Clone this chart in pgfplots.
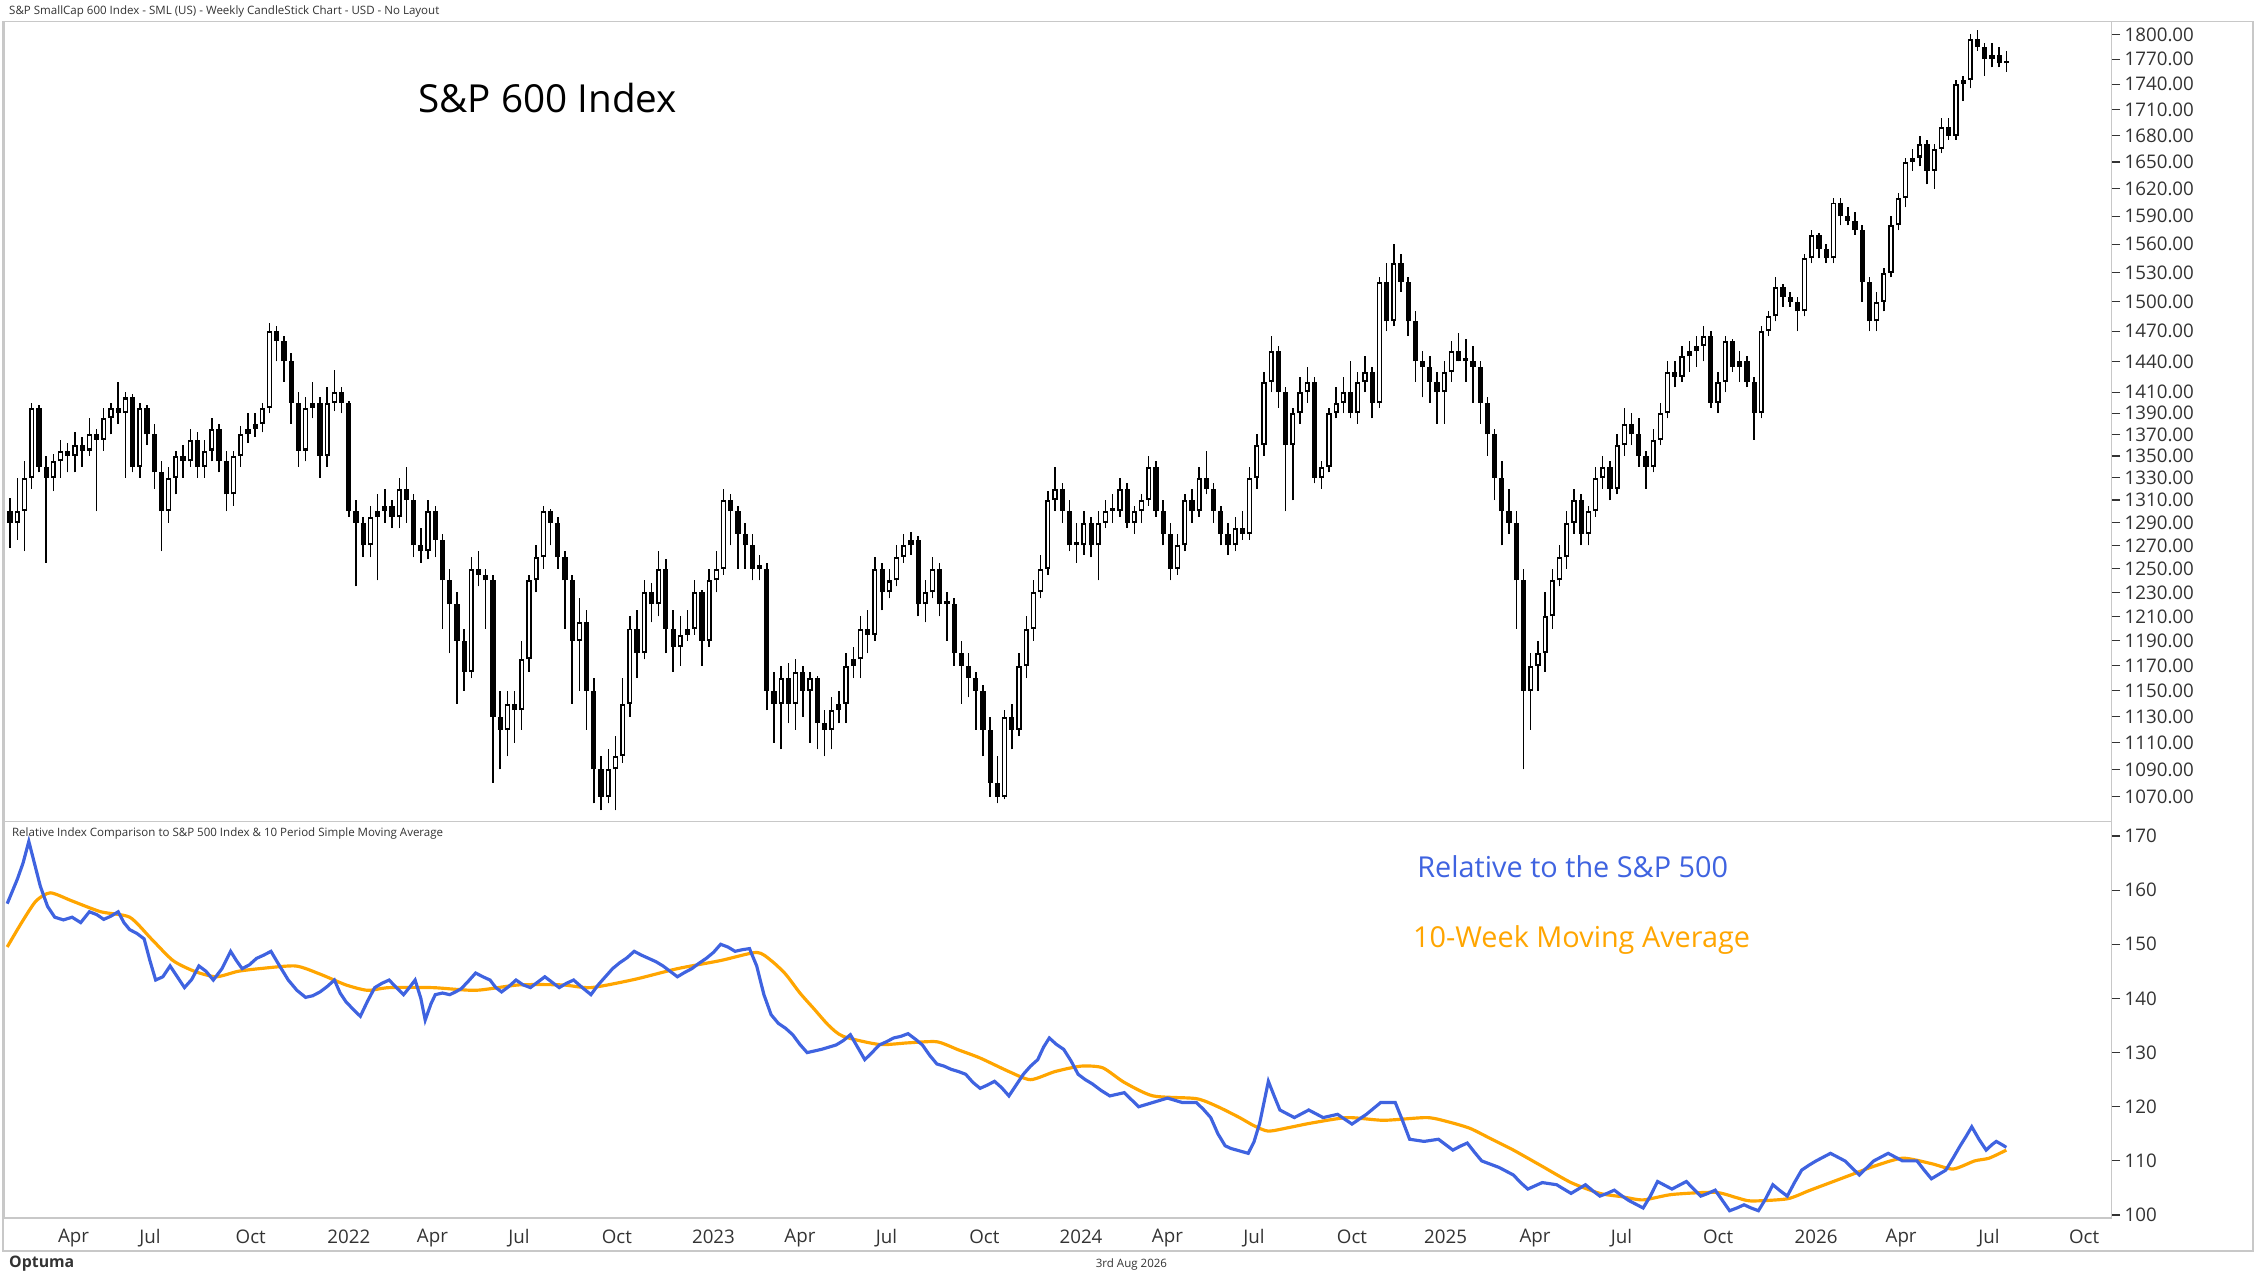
\documentclass[border=0pt]{standalone}
\usepackage{pgfplots}
\pgfplotsset{compat=1.18}
\usepackage{pgfplotstable}
\usepackage{fontspec}
\setmainfont{Open Sans}
\definecolor{relblue}{HTML}{3F63E0}
\definecolor{maorange}{HTML}{FFA500}
\definecolor{framegray}{HTML}{C8C8C8}
\definecolor{txtgray}{HTML}{333333}
\pgfplotstableread{
x o h l c
7 1300 1312 1268 1290
12 1290 1330 1275 1300
17 1300 1345 1265 1330
22 1330 1400 1320 1395
27 1395 1398 1335 1340
32 1340 1350 1255 1330
37 1330 1352 1318 1345
42 1345 1365 1330 1355
47 1355 1362 1335 1350
52 1350 1372 1335 1360
57 1360 1368 1340 1355
62 1355 1385 1350 1370
67 1370 1375 1300 1365
72 1365 1395 1355 1385
77 1385 1400 1370 1395
82 1395 1420 1380 1390
87 1390 1410 1330 1405
92 1405 1408 1335 1340
97 1340 1400 1330 1395
102 1395 1398 1360 1370
107 1370 1380 1320 1335
112 1335 1345 1265 1300
117 1300 1340 1290 1330
122 1330 1355 1315 1350
127 1350 1360 1330 1345
132 1345 1375 1340 1365
137 1365 1372 1330 1340
142 1340 1365 1330 1355
147 1355 1385 1345 1375
152 1375 1380 1335 1345
157 1345 1355 1300 1315
162 1315 1355 1305 1350
167 1350 1378 1340 1370
172 1370 1390 1362 1375
177 1375 1390 1368 1380
182 1380 1400 1372 1395
187 1395 1478 1390 1470
192 1470 1475 1440 1460
197 1460 1465 1420 1440
202 1440 1448 1380 1400
207 1400 1410 1340 1355
212 1355 1405 1345 1395
217 1395 1420 1385 1400
222 1400 1405 1330 1350
227 1350 1415 1340 1400
232 1400 1432 1392 1410
237 1410 1415 1390 1400
242 1400 1402 1295 1300
247 1300 1310 1235 1290
252 1290 1295 1260 1270
257 1270 1305 1260 1295
262 1295 1315 1240 1300
267 1300 1320 1290 1305
272 1305 1310 1285 1295
277 1295 1330 1285 1320
282 1320 1340 1290 1310
287 1310 1315 1260 1270
292 1270 1285 1255 1265
297 1265 1310 1258 1300
302 1300 1305 1260 1275
307 1275 1280 1200 1240
312 1240 1250 1180 1220
317 1220 1230 1140 1190
322 1190 1200 1150 1165
327 1165 1260 1160 1250
332 1250 1265 1235 1245
337 1245 1250 1200 1240
342 1240 1245 1080 1130
347 1130 1150 1090 1120
352 1120 1150 1100 1140
357 1140 1150 1110 1135
362 1135 1190 1120 1175
367 1175 1245 1165 1240
372 1240 1270 1230 1260
377 1260 1305 1250 1300
382 1300 1302 1270 1290
387 1290 1295 1250 1260
392 1260 1265 1200 1240
397 1240 1245 1140 1190
402 1190 1225 1150 1205
407 1205 1215 1120 1150
412 1150 1160 1065 1090
417 1090 1100 1060 1070
422 1070 1105 1065 1090
427 1090 1115 1060 1100
432 1100 1160 1095 1140
437 1140 1210 1130 1200
442 1200 1215 1160 1180
447 1180 1240 1175 1230
452 1230 1238 1205 1220
457 1220 1265 1210 1250
462 1250 1258 1180 1200
467 1200 1215 1165 1185
472 1185 1210 1170 1195
477 1195 1215 1190 1200
482 1200 1240 1195 1230
487 1230 1232 1170 1190
492 1190 1250 1185 1240
497 1240 1265 1230 1250
502 1250 1320 1245 1310
507 1310 1315 1270 1300
512 1300 1305 1250 1280
517 1280 1290 1250 1270
522 1270 1280 1240 1250
527 1250 1262 1240 1250
532 1250 1255 1135 1150
537 1150 1165 1110 1140
542 1140 1170 1105 1160
547 1160 1172 1125 1140
552 1140 1175 1120 1165
557 1165 1170 1130 1150
562 1150 1165 1110 1160
567 1160 1162 1105 1125
572 1125 1135 1100 1120
577 1120 1145 1105 1135
582 1135 1150 1125 1140
587 1140 1180 1125 1170
592 1170 1185 1160 1175
597 1175 1210 1160 1200
602 1200 1215 1180 1195
607 1195 1260 1190 1250
612 1250 1255 1215 1230
617 1230 1250 1225 1240
622 1240 1270 1235 1260
627 1260 1280 1255 1270
632 1270 1282 1262 1275
637 1275 1278 1210 1220
642 1220 1240 1205 1230
647 1230 1260 1225 1250
652 1250 1255 1210 1220
657 1220 1230 1190 1220
662 1220 1225 1170 1180
667 1180 1190 1140 1170
672 1170 1180 1145 1160
677 1160 1165 1120 1150
682 1150 1155 1100 1120
687 1120 1130 1070 1080
692 1080 1100 1065 1070
697 1070 1135 1068 1130
702 1130 1140 1105 1120
707 1120 1180 1115 1170
712 1170 1210 1160 1200
717 1200 1240 1190 1230
722 1230 1262 1225 1250
727 1250 1318 1245 1310
732 1310 1340 1300 1320
737 1320 1325 1290 1300
742 1300 1310 1265 1270
747 1270 1290 1255 1270
752 1270 1300 1262 1290
757 1290 1295 1260 1270
762 1270 1300 1240 1290
767 1290 1310 1285 1300
772 1300 1315 1290 1300
777 1300 1330 1295 1320
782 1320 1325 1285 1290
787 1290 1305 1280 1300
792 1300 1315 1290 1310
797 1310 1350 1305 1340
802 1340 1345 1295 1300
807 1300 1310 1270 1280
812 1280 1290 1240 1250
817 1250 1280 1245 1270
822 1270 1315 1265 1310
827 1310 1320 1290 1300
832 1300 1340 1295 1330
837 1330 1355 1315 1320
842 1320 1325 1290 1300
847 1300 1305 1270 1280
852 1280 1290 1262 1270
857 1270 1295 1265 1285
862 1285 1300 1275 1280
867 1280 1340 1275 1330
872 1330 1370 1320 1360
877 1360 1430 1350 1420
882 1420 1465 1410 1450
887 1450 1455 1395 1410
892 1410 1415 1300 1360
897 1360 1395 1310 1390
902 1390 1425 1380 1410
907 1410 1435 1400 1420
912 1420 1425 1325 1330
917 1330 1345 1320 1340
922 1340 1395 1335 1390
927 1390 1415 1385 1400
932 1400 1425 1390 1410
937 1410 1440 1385 1390
942 1390 1430 1380 1420
947 1420 1445 1410 1430
952 1430 1435 1385 1400
957 1400 1525 1395 1520
962 1520 1540 1470 1480
967 1480 1560 1475 1540
972 1540 1550 1510 1520
977 1520 1525 1465 1480
982 1480 1490 1420 1440
987 1440 1450 1405 1435
992 1435 1445 1400 1420
997 1420 1430 1380 1410
1002 1410 1440 1380 1430
1007 1430 1460 1420 1450
1012 1450 1468 1440 1440
1017 1440 1462 1420 1440
1022 1440 1455 1400 1435
1027 1435 1440 1380 1400
1032 1400 1405 1350 1370
1037 1370 1375 1310 1330
1042 1330 1345 1270 1300
1047 1300 1320 1280 1290
1052 1290 1300 1200 1240
1057 1240 1250 1090 1150
1062 1150 1180 1120 1170
1067 1170 1190 1150 1180
1072 1180 1230 1165 1210
1077 1210 1250 1200 1240
1082 1240 1270 1235 1260
1087 1260 1300 1250 1290
1092 1290 1320 1280 1310
1097 1310 1315 1270 1280
1102 1280 1305 1270 1300
1107 1300 1340 1295 1330
1112 1330 1350 1320 1340
1117 1340 1345 1310 1320
1122 1320 1370 1315 1360
1127 1360 1395 1350 1380
1132 1380 1390 1360 1370
1137 1370 1385 1340 1350
1142 1350 1355 1320 1340
1147 1340 1375 1335 1365
1152 1365 1400 1360 1390
1157 1390 1440 1385 1430
1162 1430 1440 1415 1425
1167 1425 1455 1420 1445
1172 1445 1460 1430 1450
1177 1450 1465 1435 1455
1182 1455 1475 1440 1465
1187 1465 1470 1395 1400
1192 1400 1430 1390 1420
1197 1420 1465 1410 1460
1202 1460 1462 1430 1435
1207 1435 1450 1420 1440
1212 1440 1445 1415 1420
1217 1420 1425 1365 1390
1222 1390 1475 1385 1470
1227 1470 1490 1465 1485
1232 1485 1525 1480 1515
1237 1515 1518 1495 1505
1242 1505 1510 1495 1500
1247 1500 1505 1470 1490
1252 1490 1550 1485 1545
1257 1545 1575 1540 1570
1262 1570 1572 1545 1555
1267 1555 1560 1540 1545
1272 1545 1610 1540 1605
1277 1605 1610 1580 1590
1282 1590 1600 1580 1585
1287 1585 1595 1570 1575
1292 1575 1580 1500 1520
1297 1520 1525 1470 1480
1302 1480 1510 1470 1500
1307 1500 1535 1490 1530
1312 1530 1590 1525 1580
1317 1580 1615 1575 1610
1322 1610 1655 1600 1650
1327 1650 1665 1640 1655
1332 1655 1680 1645 1670
1337 1670 1675 1625 1640
1342 1640 1670 1620 1665
1347 1665 1700 1660 1690
1352 1690 1700 1675 1680
1357 1680 1745 1675 1740
1362 1740 1750 1720 1745
1367 1745 1800 1735 1795
1372 1795 1805 1780 1785
1377 1785 1790 1750 1770
1382 1770 1790 1760 1775
1387 1775 1785 1760 1765
1392 1765 1780 1755 1768
}\price
\pgfplotsset{candle/.style={only marks, mark=*, mark size=0pt, mark options={draw=none, fill=none}}}
\begin{document}
\begin{tikzpicture}
\path (0pt,0pt) rectangle (784pt,-444.5pt);
\draw[framegray, line width=0.6pt] (1pt,-7.5pt) rectangle (781.5pt,-434pt);
\node[anchor=west, font=\fontsize{4}{5}\selectfont, text=txtgray, inner sep=0] at (3pt,-4pt) {S\&P SmallCap 600 Index - SML (US) - Weekly CandleStick Chart - USD - No Layout};
\begin{axis}[at={(1.5pt,-7.5pt)}, anchor=north west, scale only axis, width=731pt, height=277.5pt,
  xmin=3, xmax=1465, ymode=log, ymin=1052, ymax=1816,
  axis line style={framegray}, xtick=\empty,
  ytick pos=right, tick align=outside, major tick length=3pt, tick style={txtgray, line width=0.4pt},
  ytick={1050,1070,1090,1110,1130,1150,1170,1190,1210,1230,1250,1270,1290,1310,1330,1350,1370,1390,1410,1440,1470,1500,1530,1560,1590,1620,1650,1680,1710,1740,1770,1800},
  yticklabels={1050.00,1070.00,1090.00,1110.00,1130.00,1150.00,1170.00,1190.00,1210.00,1230.00,1250.00,1270.00,1290.00,1310.00,1330.00,1350.00,1370.00,1390.00,1410.00,1440.00,1470.00,1500.00,1530.00,1560.00,1590.00,1620.00,1650.00,1680.00,1710.00,1740.00,1770.00,1800.00},
  yticklabel style={font=\fontsize{6.5}{7}\selectfont, text=txtgray, xshift=-2pt},
  minor ytick={}, clip=true]
\addplot[candle, error bars/.cd, y dir=plus, y explicit, error mark=none,
  error bar style={draw=black, line width=0.5pt, line cap=butt}]
  table[x=x, y=l, y error expr=\thisrow{h}-\thisrow{l}] {\price};
\addplot[candle, error bars/.cd, y dir=plus, y explicit, error mark=none,
  error bar style={draw=black, line width=1.8pt, line cap=butt}]
  table[x=x, y expr={min(\thisrow{o},\thisrow{c})}, y error expr={max(abs(\thisrow{c}-\thisrow{o}),3)}] {\price};
\addplot[candle, unbounded coords=discard,
  y filter/.expression={\thisrow{c}>\thisrow{o}+5 ? \pgfmathresult : nan},
  error bars/.cd, y dir=plus, y explicit, error mark=none,
  error bar style={draw=white, line width=0.8pt, line cap=butt}]
  table[x=x, y expr={\thisrow{o}*1.0014}, y error expr={\thisrow{c}-\thisrow{o}*1.0028}] {\price};
\end{axis}
\node[anchor=west, font=\fontsize{13.4}{15}\selectfont, inner sep=0] at (145pt,-34pt) {S\&P 600 Index};
\begin{axis}[at={(1.5pt,-285pt)}, anchor=north west, scale only axis, width=731pt, height=137.5pt,
  xmin=3, xmax=1465, ymin=99.47, ymax=172.66,
  axis line style={framegray},
  ytick pos=right, xtick pos=bottom, tick align=outside, major tick length=3pt, tick style={txtgray, line width=0.4pt},
  ytick={100,110,120,130,140,150,160,170},
  yticklabels={100,110,120,130,140,150,160,170},
  yticklabel style={font=\fontsize{6.5}{7}\selectfont, text=txtgray, xshift=-2pt},
  xtick={51,104,174,242,300,360,428,495,555,615,683,750,810,870,938,1003,1065,1125,1192,1260,1319,1380,1446},
  xticklabels={Apr,Jul,Oct,2022,Apr,Jul,Oct,2023,Apr,Jul,Oct,2024,Apr,Jul,Oct,2025,Apr,Jul,Oct,2026,Apr,Jul,Oct},
  xticklabel style={font=\fontsize{6.5}{7}\selectfont, text=txtgray, yshift=2.5pt},
  xtick style={draw=none}]
\addplot[maorange, line width=1.1pt, smooth, tension=0.4] coordinates {
(5,149.5) (15,154) (25,158) (35,159.5) (50,158) (70,156) (90,155) (105,151) (120,147) (135,145) (150,144) (165,145) (180,145.5) (205,146) (222,144.5) (240,142.5) (255,141.5) (270,142) (300,142) (330,141.5) (360,142.5) (390,142.5) (410,142) (440,143.5) (470,145.5) (500,147) (525,148.5) (535,147) (545,144.5) (555,141) (565,138) (575,135) (585,133) (610,131.5) (630,131.8) (650,132) (665,130.5) (680,129) (700,126.5) (715,125) (732,126.5) (750,127.5) (765,127.2) (780,124.5) (800,122) (830,121.5) (845,120) (860,118) (870,116.5) (880,115.5) (895,116.2) (910,117) (935,118) (960,117.5) (990,118) (1005,117.2) (1020,116) (1035,114) (1050,112) (1070,109) (1090,106) (1110,104) (1125,103.4) (1140,102.8) (1160,103.8) (1190,104.2) (1205,103.2) (1215,102.6) (1240,103) (1255,104.5) (1270,106) (1285,107.5) (1300,109) (1320,110.5) (1340,109.5) (1355,108.5) (1370,110) (1380,110.5) (1392,112)};
\addplot[relblue, line width=1.1pt] coordinates {
(5,157.5) (12,162) (16,165) (20,169) (28,160.7) (33,157) (38,155) (44,154.5) (50,155) (56,154) (62,156) (67,155.5) (72,154.6) (77,155.2) (82,156) (86,154) (90,152.7) (95,152) (100,151) (104,147) (108,143.4) (113,144) (118,146) (123,144) (128,142) (133,143.5) (138,146) (143,145) (148,143.4) (154,145.5) (160,148.7) (164,147) (168,145.5) (173,146.2) (178,147.4) (183,148) (188,148.7) (194,146) (200,143.4) (206,141.5) (212,140.2) (217,140.5) (222,141.2) (227,142.2) (232,143.4) (236,141) (240,139.4) (245,138) (250,136.7) (255,139.5) (260,142) (265,142.8) (270,143.4) (275,142) (280,140.7) (284,142) (288,143.4) (292,140) (295,136) (299,139) (302,140.7) (307,141) (312,140.7) (316,141.2) (320,141.8) (325,143.2) (330,144.7) (335,144) (340,143.4) (344,142) (348,141.2) (353,142.2) (358,143.4) (363,142.5) (368,142) (373,143) (378,144) (383,143) (388,142) (393,142.8) (398,143.4) (404,142) (410,140.7) (415,142.5) (420,144) (425,145.5) (430,146.6) (435,147.5) (440,148.7) (445,148) (450,147.4) (455,146.8) (460,146) (465,145) (470,144) (475,144.8) (480,145.5) (485,146.5) (490,147.4) (495,148.5) (500,150) (505,149.5) (510,148.7) (515,149) (520,149.2) (525,146) (530,140.7) (535,137) (540,135.4) (545,134.5) (550,133.3) (555,131.5) (560,130) (565,130.3) (570,130.6) (575,131) (580,131.4) (585,132.2) (590,133.3) (595,131) (600,128.7) (605,130) (610,131.4) (615,132) (620,132.7) (625,133) (630,133.5) (635,132.5) (640,131.4) (645,129.5) (650,127.9) (655,127.5) (660,126.9) (665,126.5) (670,126) (675,124.5) (680,123.4) (685,124) (690,124.7) (695,123.5) (700,122) (705,124) (710,126) (715,127.5) (720,128.7) (724,131) (728,132.7) (733,131.5) (738,130.6) (743,128.5) (748,126) (753,125) (758,124.2) (764,123) (770,122) (775,122.3) (780,122.6) (785,121.3) (790,120) (795,120.4) (800,120.8) (805,121.2) (810,121.6) (815,121.2) (820,120.8) (825,120.8) (830,120.8) (835,119.5) (840,118) (845,115) (850,112.8) (854,112.3) (858,112) (862,111.7) (866,111.4) (870,113.5) (874,117) (880,124.7) (884,122) (888,119.4) (893,118.7) (898,118) (903,118.7) (908,119.4) (913,118.7) (918,118) (923,118.3) (928,118.6) (933,117.7) (938,116.8) (943,117.7) (948,118.6) (953,119.7) (958,120.8) (963,120.8) (968,120.8) (973,117.5) (978,114) (983,113.8) (988,113.6) (993,113.8) (998,114) (1003,113) (1008,112) (1013,112.7) (1018,113.3) (1023,111.6) (1028,110) (1034,109.4) (1040,108.8) (1045,108.1) (1050,107.4) (1055,106) (1060,104.8) (1065,105.4) (1070,106) (1075,105.8) (1080,105.6) (1085,104.8) (1090,104) (1095,104.8) (1100,105.6) (1105,104.5) (1110,103.5) (1115,104) (1120,104.6) (1125,103.6) (1130,102.7) (1135,102) (1140,101.3) (1145,103.5) (1150,106.2) (1155,105.5) (1160,104.8) (1165,105.5) (1170,106.2) (1175,104.8) (1180,103.5) (1185,104) (1190,104.6) (1195,102.7) (1200,100.8) (1205,101.3) (1210,101.9) (1215,101.3) (1220,100.8) (1225,103) (1230,105.6) (1235,104.5) (1240,103.5) (1245,106) (1250,108.3) (1255,109.2) (1260,110) (1265,110.7) (1270,111.4) (1275,110.7) (1280,110) (1285,108.7) (1290,107.4) (1295,108.7) (1300,110) (1305,110.7) (1310,111.4) (1315,110.7) (1320,110) (1325,110) (1330,110) (1335,108.3) (1340,106.7) (1345,107.5) (1350,108.3) (1355,110.5) (1360,112.8) (1364,114.5) (1368,116.3) (1373,114) (1378,112) (1382,113) (1385,113.6) (1389,113) (1392,112.5)};
\end{axis}
\node[anchor=west, font=\fontsize{4}{5}\selectfont, text=txtgray, inner sep=0] at (4pt,-289pt) {Relative Index Comparison to S\&P 500 Index \& 10 Period Simple Moving Average};
\node[anchor=west, font=\fontsize{10}{12}\selectfont, text=relblue, inner sep=0] at (491.5pt,-300.5pt) {Relative to the S\&P 500};
\node[anchor=west, font=\fontsize{10}{12}\selectfont, text=maorange, inner sep=0] at (490pt,-326pt) {10-Week Moving Average};
\draw[framegray, line width=0.6pt] (1pt,-434pt) -- (781.5pt,-434pt);
\node[anchor=center, font=\fontsize{4}{5}\selectfont, text=txtgray, inner sep=0] at (392.5pt,-438.5pt) {3rd Aug 2026};
\node[anchor=west, font=\fontsize{5.5}{6}\selectfont\bfseries, text=black!80, inner sep=0] at (3pt,-438.5pt) {Optuma};
\end{tikzpicture}
\end{document}
